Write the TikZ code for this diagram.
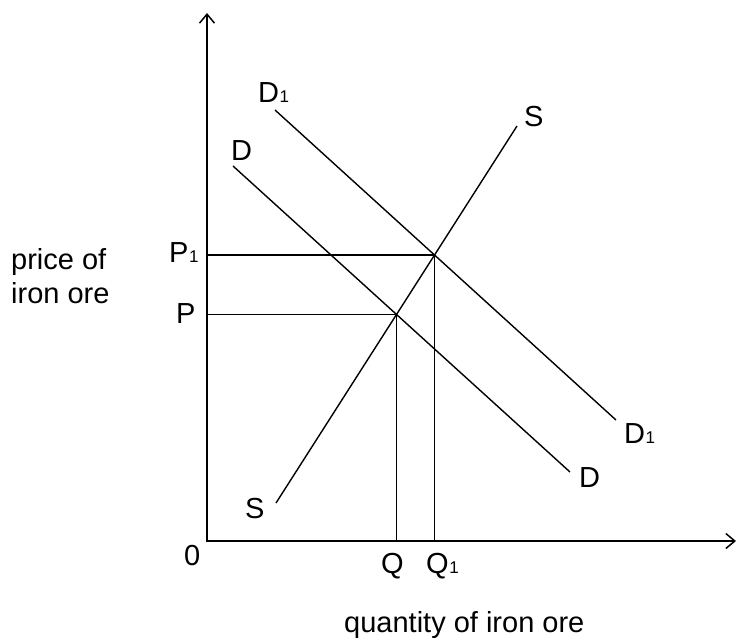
\documentclass[tikz,border=0pt]{standalone}
\usepackage{fontspec}
\setmainfont{Liberation Sans}
\usetikzlibrary{arrows.meta, intersections}

\newcommand{\idx}[1]{\kern0.5pt{\fontsize{17}{17}\selectfont #1}}
\newcommand{\lblfont}{\fontsize{29}{34}\selectfont}

\begin{document}
\begin{tikzpicture}[
    x=1pt, y=-1pt,
    curve/.style={line width=1.4pt},
    axis/.style={line width=1.5pt, {Straight Barb[length=9pt,width=15pt]}-{Straight Barb[length=9pt,width=15pt]}},
    lbl/.style={anchor=base west, inner sep=0pt, font=\lblfont}
]
\useasboundingbox (0,0) rectangle (740,641);

% Axes
\coordinate (origin) at (207,541);
\coordinate (ytop) at (207,13);
\coordinate (xend) at (736,541);
\draw[axis] (ytop) -- (origin) -- (xend);

% Curve ends
\coordinate (slo) at (276,503);
\coordinate (shi) at (517,126);
\coordinate (dhi) at (233,166);
\coordinate (dlo) at (570,472);
\coordinate (donehi) at (275,110);
\coordinate (donelo) at (616,420);

% Supply and demand
\draw[curve, name path=supply] (slo) -- (shi);
\draw[curve, name path=demand] (dhi) -- (dlo);
\draw[curve, name path=demandone] (donehi) -- (donelo);

\path[name intersections={of=supply and demand, by=eq}];
\path[name intersections={of=supply and demandone, by=eqone}];

% Guide lines
\draw[curve] (eq -| origin) -- (eq) -- (eq |- origin);
\draw[curve] (eqone -| origin) -- (eqone) -- (eqone |- origin);

% Labels
\node (labDonetop) [lbl] at (258,102) {D\idx{1}};
\node (labDtop) [lbl] at (231,160) {D};
\node (labStop) [lbl] at (524,126) {S};
\node (labPone) [lbl] at (169,262) {P\idx{1}};
\node (labP) [lbl] at (176,323) {P};
\node (labDonebot) [lbl] at (624,443) {D\idx{1}};
\node (labDbot) [lbl] at (579,487) {D};
\node (labSbot) [lbl] at (245,518) {S};
\node (labzero) [lbl] at (184,565) {0};
\node (labQ) [lbl] at (381,573) {Q};
\node (labQone) [lbl] at (426,573) {Q\idx{1}};
\node (labpricea) [lbl] at (11,269) {price of};
\node (labpriceb) [lbl] at (11,303) {iron ore};
\node (labqty) [lbl] at (344,632) {quantity of iron ore};

\end{tikzpicture}
\end{document}
